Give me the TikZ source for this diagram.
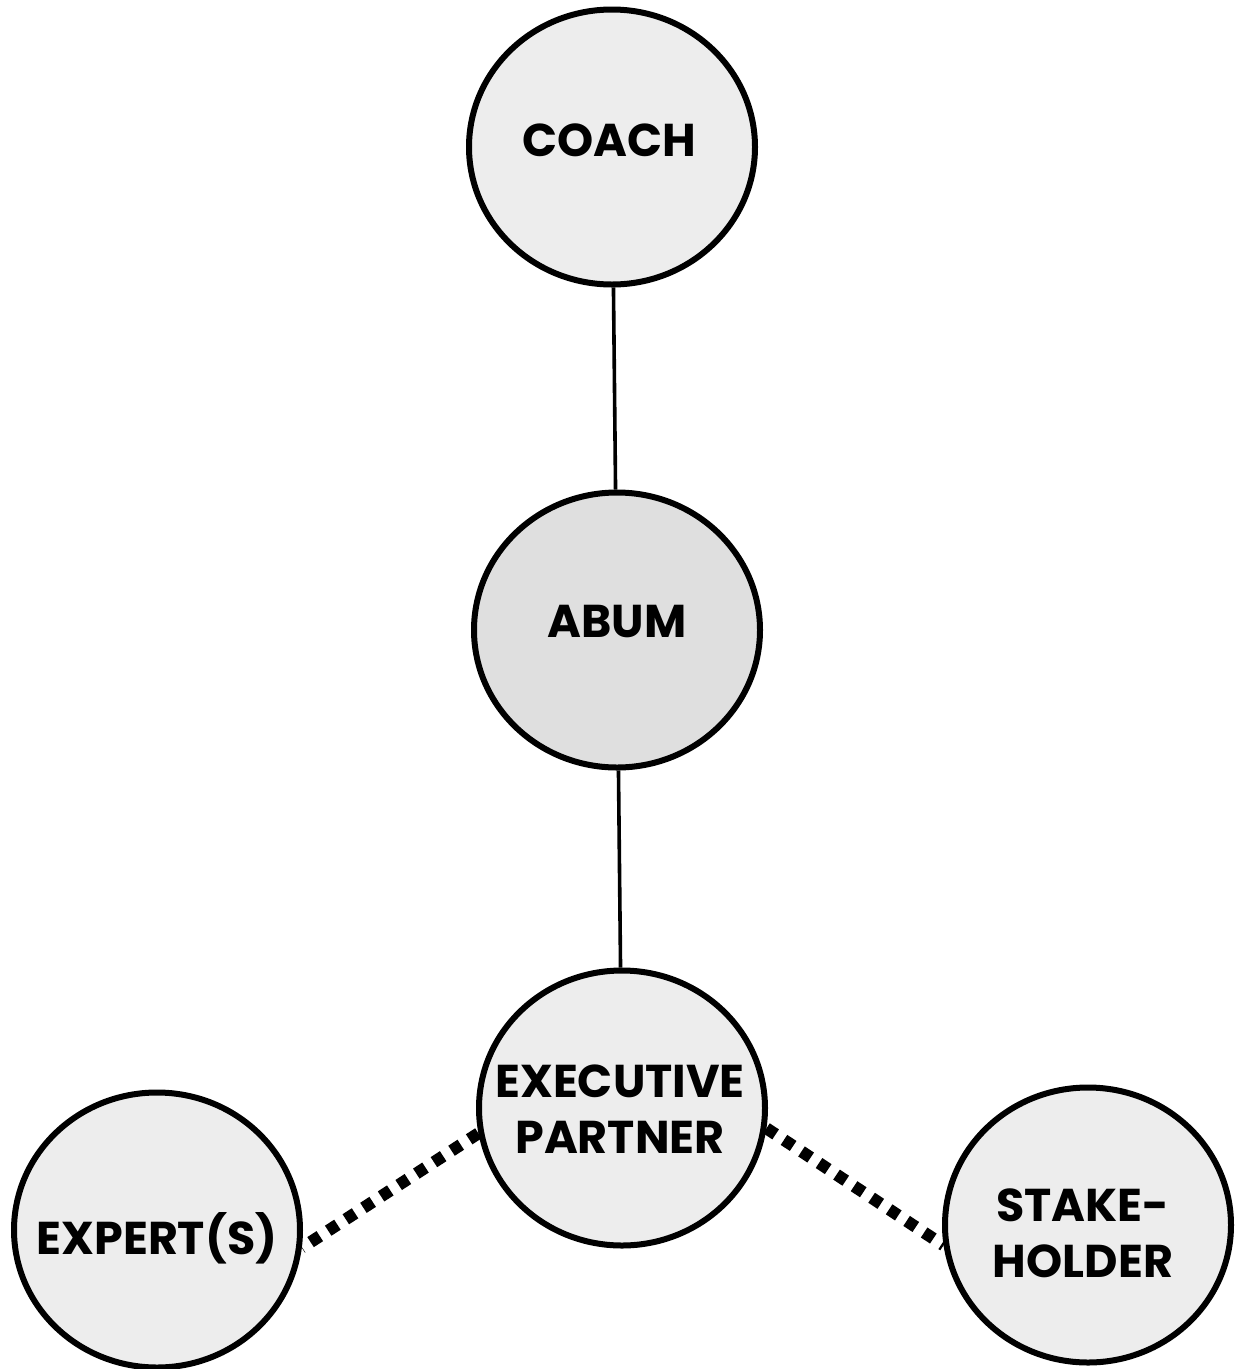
\documentclass[tikz,border=0pt]{standalone}
\usepackage{fontspec}
\setmainfont{Poppins}
\usetikzlibrary{shapes.geometric}
\begin{document}
\begin{tikzpicture}[x=1pt,y=-1pt,
  role/.style={ellipse,draw=black,line width=6pt,inner sep=0pt,
    minimum width=286pt,minimum height=275pt,fill=gray!14},
  centre/.style={role,fill=gray!25},
  caption/.style={font=\fontsize{46}{56}\selectfont\bfseries,align=center,
    text=black,inner sep=0pt},
  link/.style={line width=3.6pt},
  sidelink/.style={line width=12pt,dash pattern=on 11pt off 10pt}]
\useasboundingbox (0,0) rectangle (1236,1369);
% circles
\node[role]   (coach) at (612,147)  {};
\node[centre] (abum)  at (617,630)  {};
\node[role]   (exec)  at (622,1108) {};
\node[role]   (exp)   at (157,1230) {};
\node[role]   (stake) at (1088,1225) {};
% labels
\node[caption] (coach-t) at (609,140)  {COACH};
\node[caption] (abum-t)  at (617,622)  {ABUM};
\node[caption] (exec-t)  at (620,1109) {EXECUTIVE\\PARTNER};
\node[caption] (exp-t)   at (157,1238) {EXPERT(S)};
\node[caption] (stake-t) at (1083,1233) {STAKE-\\HOLDER};
% connectors
\draw[link] (coach) -- (abum);
\draw[link] (abum) -- (exec);
\draw[sidelink] (exec.190) -- (exp.-7);
\draw[sidelink] (exec.-8) -- (stake.188);
\end{tikzpicture}
\end{document}
